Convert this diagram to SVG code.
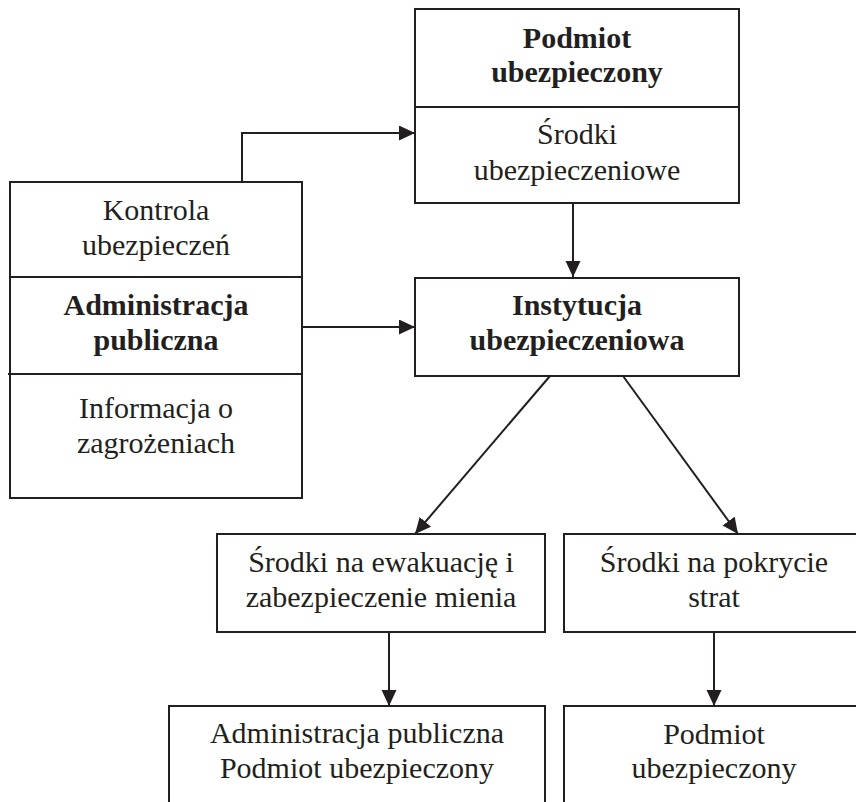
<svg xmlns="http://www.w3.org/2000/svg" width="856" height="802" viewBox="0 0 856 802">
  <defs>
    <marker id="arrow" markerUnits="userSpaceOnUse" markerWidth="17" markerHeight="16" refX="16" refY="7.5" orient="auto">
      <path d="M0,0 L16,7.5 L0,15 Z" fill="#231f20"/>
    </marker>
  </defs>
  <rect width="856" height="802" fill="#ffffff"/>

  <g id="podmiot-ubezpieczony" fill="#ffffff" stroke="#231f20" stroke-width="2">
    <rect x="415" y="9" width="324" height="194"/>
    <line x1="415" y1="107" x2="739" y2="107"/>
  </g>
  <g id="podmiot-ubezpieczony-text" style="font-family: 'Liberation Serif'; font-size: 30px; fill: #231f20; text-anchor: middle">
    <text style="font-family: 'Liberation Serif'; font-weight: bold" x="577" y="48">Podmiot</text>
    <text style="font-family: 'Liberation Serif'; font-weight: bold" x="577" y="82">ubezpieczony</text>
    <text style="font-family: 'Liberation Serif'" x="577" y="144">Środki</text>
    <text style="font-family: 'Liberation Serif'" x="577" y="180">ubezpieczeniowe</text>
  </g>

  <g id="administracja-publiczna" fill="#ffffff" stroke="#231f20" stroke-width="2">
    <rect x="10" y="182" width="292" height="316"/>
    <line x1="10" y1="277" x2="302" y2="277"/>
    <line x1="8" y1="374" x2="302" y2="374"/>
  </g>
  <g id="administracja-publiczna-text" style="font-family: 'Liberation Serif'; font-size: 30px; fill: #231f20; text-anchor: middle">
    <text style="font-family: 'Liberation Serif'" x="156" y="220">Kontrola</text>
    <text style="font-family: 'Liberation Serif'" x="156" y="255">ubezpieczeń</text>
    <text style="font-family: 'Liberation Serif'; font-weight: bold" x="156" y="315">Administracja</text>
    <text style="font-family: 'Liberation Serif'; font-weight: bold" x="156" y="350">publiczna</text>
    <text style="font-family: 'Liberation Serif'" x="156" y="418">Informacja o</text>
    <text style="font-family: 'Liberation Serif'" x="156" y="453">zagrożeniach</text>
  </g>

  <g id="instytucja-ubezpieczeniowa" fill="#ffffff" stroke="#231f20" stroke-width="2">
    <rect x="415" y="278" width="324" height="98"/>
  </g>
  <g id="instytucja-ubezpieczeniowa-text" style="font-family: 'Liberation Serif'; font-size: 30px; fill: #231f20; text-anchor: middle">
    <text style="font-family: 'Liberation Serif'; font-weight: bold" x="577" y="315">Instytucja</text>
    <text style="font-family: 'Liberation Serif'; font-weight: bold" x="577" y="350">ubezpieczeniowa</text>
  </g>

  <g id="srodki-ewakuacja" fill="#ffffff" stroke="#231f20" stroke-width="2">
    <rect x="217" y="534" width="328" height="98"/>
  </g>
  <g id="srodki-ewakuacja-text" style="font-family: 'Liberation Serif'; font-size: 30px; fill: #231f20; text-anchor: middle">
    <text style="font-family: 'Liberation Serif'" x="381" y="572">Środki na ewakuację i</text>
    <text style="font-family: 'Liberation Serif'" x="381" y="607">zabezpieczenie mienia</text>
  </g>

  <g id="srodki-pokrycie" fill="#ffffff" stroke="#231f20" stroke-width="2">
    <rect x="564" y="534" width="320" height="98"/>
  </g>
  <g id="srodki-pokrycie-text" style="font-family: 'Liberation Serif'; font-size: 30px; fill: #231f20; text-anchor: middle">
    <text style="font-family: 'Liberation Serif'" x="714" y="572">Środki na pokrycie</text>
    <text style="font-family: 'Liberation Serif'" x="714" y="607">strat</text>
  </g>

  <g id="odbiorcy-ewakuacja" fill="#ffffff" stroke="#231f20" stroke-width="2">
    <rect x="169" y="706" width="376" height="120"/>
  </g>
  <g id="odbiorcy-ewakuacja-text" style="font-family: 'Liberation Serif'; font-size: 30px; fill: #231f20; text-anchor: middle">
    <text style="font-family: 'Liberation Serif'" x="357" y="743">Administracja publiczna</text>
    <text style="font-family: 'Liberation Serif'" x="357" y="778">Podmiot ubezpieczony</text>
  </g>

  <g id="odbiorcy-pokrycie" fill="#ffffff" stroke="#231f20" stroke-width="2">
    <rect x="564" y="706" width="320" height="120"/>
  </g>
  <g id="odbiorcy-pokrycie-text" style="font-family: 'Liberation Serif'; font-size: 30px; fill: #231f20; text-anchor: middle">
    <text style="font-family: 'Liberation Serif'" x="714" y="744">Podmiot</text>
    <text style="font-family: 'Liberation Serif'" x="714" y="778">ubezpieczony</text>
  </g>

  <g id="connectors" fill="none" stroke="#231f20" stroke-width="2">
    <polyline points="242,182 242,133 415,133" marker-end="url(#arrow)"/>
    <line x1="302" y1="327" x2="415" y2="327" marker-end="url(#arrow)"/>
    <line x1="573" y1="203" x2="573" y2="277" marker-end="url(#arrow)"/>
    <line x1="550" y1="376" x2="415" y2="534" marker-end="url(#arrow)"/>
    <line x1="623" y1="376" x2="738" y2="534" marker-end="url(#arrow)"/>
    <line x1="389" y1="632" x2="389" y2="706" marker-end="url(#arrow)"/>
    <line x1="714" y1="632" x2="714" y2="706" marker-end="url(#arrow)"/>
  </g>
</svg>
